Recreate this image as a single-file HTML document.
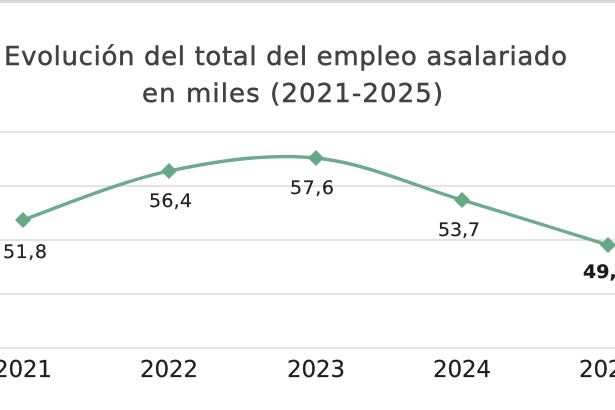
<!DOCTYPE html>
<html>
<head>
<meta charset="utf-8">
<style>
  html,body{margin:0;padding:0;background:#fff;}
  body{width:615px;height:410px;overflow:hidden;}
  svg{display:block;}
  text{font-family:"DejaVu Sans","Liberation Sans",sans-serif;}
</style>
</head>
<body>
<svg width="615" height="410" viewBox="0 0 615 410" xmlns="http://www.w3.org/2000/svg">
  <rect x="0" y="0" width="615" height="410" fill="#ffffff"/>
  <rect x="0" y="0" width="615" height="3" fill="#d6d6d6"/>

  <!-- Title -->
  <text x="4" y="65" font-size="26" fill="#424242" stroke="#424242" stroke-width="0.5" textLength="563" lengthAdjust="spacing">Evolución del total del empleo asalariado</text>
  <text x="142" y="102" font-size="26" fill="#424242" stroke="#424242" stroke-width="0.5" textLength="301" lengthAdjust="spacing">en miles (2021-2025)</text>

  <!-- Gridlines -->
  <g stroke="#d2d2d2" stroke-width="1.2">
    <line x1="0" y1="132" x2="615" y2="132"/>
    <line x1="0" y1="186" x2="615" y2="186"/>
    <line x1="0" y1="240" x2="615" y2="240"/>
    <line x1="0" y1="294" x2="615" y2="294"/>
    <line x1="0" y1="348" x2="615" y2="348"/>
  </g>

  <!-- Series line -->
  <path d="M23,220 C47.3,211.5 120.2,181.2 169,171 C217.8,160.8 267.2,153.2 316,158 C364.8,162.8 413.3,185.5 462,200 C510.7,214.5 583.7,237.5 608,245"
        fill="none" stroke="#6cab8c" stroke-width="3.4" stroke-linejoin="round" stroke-linecap="round"/>

  <!-- Markers -->
  <g fill="#66a886">
    <polygon points="23,212 31,220 23,228 15,220"/>
    <polygon points="169,163 177,171 169,179 161,171"/>
    <polygon points="316,150 324,158 316,166 308,158"/>
    <polygon points="462,192 470,200 462,208 454,200"/>
    <polygon points="608,237 616,245 608,253 600,245"/>
  </g>

  <!-- Data labels -->
  <g font-size="19" fill="#222222" stroke="#222222" stroke-width="0.2">
    <text x="3" y="258" textLength="44" lengthAdjust="spacing">51,8</text>
    <text x="149" y="207" textLength="43" lengthAdjust="spacing">56,4</text>
    <text x="290" y="194" textLength="44" lengthAdjust="spacing">57,6</text>
    <text x="438" y="236" textLength="42" lengthAdjust="spacing">53,7</text>
    <text x="583" y="278" font-weight="bold" fill="#1a1a1a" textLength="47" lengthAdjust="spacing">49,5</text>
  </g>

  <!-- X axis labels -->
  <g font-size="23" fill="#1e1e1e" stroke="#1e1e1e" stroke-width="0.2">
    <text x="-6" y="377" textLength="58" lengthAdjust="spacing">2021</text>
    <text x="140" y="377" textLength="58" lengthAdjust="spacing">2022</text>
    <text x="287" y="377" textLength="58" lengthAdjust="spacing">2023</text>
    <text x="433" y="377" textLength="58" lengthAdjust="spacing">2024</text>
    <text x="579" y="377" textLength="58" lengthAdjust="spacing">2025</text>
  </g>
</svg>
</body>
</html>
